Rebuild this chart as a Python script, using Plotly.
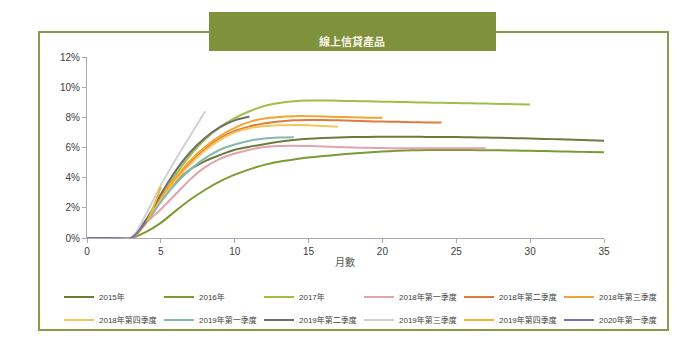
import plotly.graph_objects as go

names = ["2015年", "2016年", "2017年", "2018年第一季度", "2018年第二季度", "2018年第三季度",
         "2018年第四季度", "2019年第一季度", "2019年第二季度", "2019年第三季度", "2019年第四季度", "2020年第一季度"]

s2015 = [0, 0, 0, 0, 1.1, 2.5, 3.7, 4.55, 5.1, 5.5, 5.85, 6.05, 6.22, 6.38, 6.5, 6.58, 6.63, 6.67, 6.69, 6.7,
         6.71, 6.71, 6.71, 6.7, 6.7, 6.69, 6.68, 6.66, 6.64, 6.62, 6.6, 6.57, 6.54, 6.51, 6.48, 6.45]
s2016 = [0, 0, 0, 0, 0.4, 1.0, 1.8, 2.55, 3.2, 3.75, 4.2, 4.55, 4.85, 5.05, 5.2, 5.33, 5.43, 5.52, 5.6, 5.67,
         5.73, 5.78, 5.81, 5.83, 5.84, 5.84, 5.83, 5.82, 5.81, 5.8, 5.78, 5.76, 5.74, 5.72, 5.7, 5.68]
s2017 = [0, 0, 0, 0, 1.2, 2.7, 4.2, 5.5, 6.55, 7.35, 7.95, 8.4, 8.75, 8.95, 9.07, 9.12, 9.12, 9.1, 9.08, 9.06,
         9.04, 9.02, 9.0, 8.98, 8.96, 8.95, 8.93, 8.91, 8.89, 8.87, 8.85]
s2018q1 = [0, 0, 0, 0, 1.0, 1.9, 2.9, 3.9, 4.7, 5.25, 5.6, 5.85, 6.03, 6.1, 6.12, 6.1, 6.07, 6.03, 6.0, 5.98,
           5.96, 5.95, 5.95, 5.95, 5.95, 5.95, 5.95, 5.95]
s2018q2 = [0, 0, 0, 0, 1.1, 2.6, 3.9, 5.0, 5.9, 6.6, 7.1, 7.4, 7.6, 7.72, 7.8, 7.82, 7.82, 7.8, 7.77, 7.74,
           7.72, 7.7, 7.68, 7.66, 7.65]
s2018q3 = [0, 0, 0, 0, 1.1, 2.7, 4.0, 5.15, 6.05, 6.75, 7.3, 7.7, 7.92, 8.03, 8.08, 8.08, 8.06, 8.03, 8.0, 7.98, 7.97]
s2018q4 = [0, 0, 0, 0, 1.0, 2.5, 3.8, 4.9, 5.8, 6.5, 7.0, 7.28, 7.42, 7.48, 7.5, 7.48, 7.42, 7.37]
s2019q1 = [0, 0, 0, 0, 1.0, 2.4, 3.6, 4.55, 5.3, 5.85, 6.2, 6.45, 6.6, 6.66, 6.68]
s2019q2 = [0, 0, 0, 0, 1.2, 2.9, 4.45, 5.7, 6.65, 7.35, 7.8, 8.05]
s2019q3 = [0, 0, 0, 0, 1.6, 3.5, 5.2, 6.8, 8.4]
s2019q4 = [0, 0, 0, 0, 1.0, 3.4]
s2020q1 = [0, 0, 0, 0, 1.1]

series = [s2015, s2016, s2017, s2018q1, s2018q2, s2018q3, s2018q4, s2019q1, s2019q2, s2019q3, s2019q4, s2020q1]
colors = ["#6b7b3c", "#7c9a33", "#a2bf45", "#e3a2ae", "#e07a3c", "#efa534",
          "#f7c55a", "#86b8b0", "#6d6d6d", "#d0d0d0", "#f5b52c", "#7870b0"]

x_ticks = [0, 5, 10, 15, 20, 25, 30, 35]
y_ticks = [0, 2, 4, 6, 8, 10, 12]

fig = go.Figure()
for i, (nm, vals, col) in enumerate(zip(names, series, colors)):
    fig.add_trace(go.Scatter(
        x=list(range(len(vals))), y=vals, name=nm, mode="lines",
        line=dict(color=col, width=2, shape="spline", smoothing=0.8),
        legend="legend" if i < 6 else "legend2",
    ))

# pixel helpers for paper coords
L, R, T, B = 87, 604, 57, 238
def px(x):
    return (x - L) / (R - L)
def py(y):
    return (B - y) / (B - T)

font_fam = "Liberation Sans, Noto Sans CJK TC, sans-serif"
leg_common = dict(orientation="h", xanchor="left", yanchor="middle",
                  entrywidth=55, entrywidthmode="pixels", itemwidth=30,
                  font=dict(size=8, color="#404040", family=font_fam), bgcolor="rgba(0,0,0,0)")

fig.update_layout(
    width=700, height=347,
    margin=dict(l=L, r=700 - R, t=T, b=347 - B, autoexpand=False),
    paper_bgcolor="white", plot_bgcolor="white",
    showlegend=True,
    font=dict(family=font_fam, size=10, color="#404040"),
    xaxis=dict(range=[0, 35], tickvals=x_ticks, ticktext=[str(v) for v in x_ticks],
               showgrid=False, zeroline=False, showline=True, linecolor="#a8a8b4", linewidth=1,
               ticks="outside", ticklen=4, tickcolor="#a8a8b4",
               tickfont=dict(size=10, color="#404040")),
    yaxis=dict(range=[0, 12], tickvals=y_ticks, ticktext=[f"{v}%" for v in y_ticks],
               showgrid=False, zeroline=False, showline=True, linecolor="#a8a8b4", linewidth=1,
               ticks="outside", ticklen=4, tickcolor="#a8a8b4",
               tickfont=dict(size=10, color="#404040")),
    legend=dict(x=px(59), y=py(297), **leg_common),
    legend2=dict(x=px(59), y=py(320), **leg_common),
)

# outer frame
fig.add_shape(type="rect", xref="paper", yref="paper",
              x0=px(39), x1=px(668), y0=py(330), y1=py(32),
              line=dict(color="#8a9a48", width=2), fillcolor="rgba(0,0,0,0)", layer="below")
# title box
fig.add_shape(type="rect", xref="paper", yref="paper",
              x0=px(209), x1=px(496), y0=py(51), y1=py(12),
              line=dict(width=0), fillcolor="#7f913d", layer="above")
fig.add_annotation(xref="paper", yref="paper", x=px(352), y=py(31), text="<b>線上信貸產品</b>",
                   showarrow=False, font=dict(size=11, color="#f4f1e4", family="Noto Sans CJK TC"))
fig.add_annotation(xref="paper", yref="paper", x=px(345), y=py(271), text="月數",
                   showarrow=False, font=dict(size=10, color="#555555", family="Noto Sans CJK TC"))

fig.write_html("out.html")
